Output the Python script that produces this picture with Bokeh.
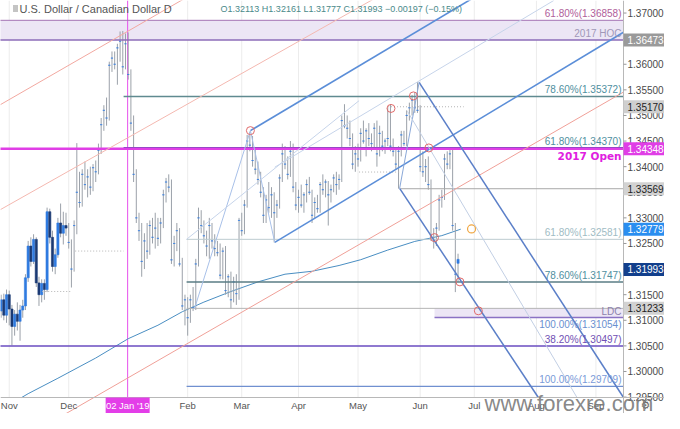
from bokeh.plotting import figure
from bokeh.models import Range1d, ColumnDataSource
from bokeh.embed import file_html
from bokeh.resources import INLINE
from bokeh.core.properties import value

# ---------------- data ----------------
# bar index: 0 = 1 Nov 2018, weekdays only (first bar = 29 Oct 2018)
start_index = -3
opens = [1.3118,1.3140,1.3110,1.3150,1.3122,1.3088,1.3112,1.3098,1.3120,1.3128,1.3183,1.3245,1.3215,1.3258,1.3173,1.3150,1.3172,1.3160,1.3312,1.3262,1.3205,1.3228,1.3290,1.3270,1.3285,1.3252,1.3200,1.3285,1.3350,1.3330,1.3385,1.3365,1.3380,1.3360,1.3398,1.3390,1.3432,1.3482,1.3510,1.3495,1.3598,1.3612,1.3600,1.3632,1.3645,1.3595,1.3640,1.3580,1.3485,1.3385,1.3300,1.3275,1.3215,1.3255,1.3235,1.3285,1.3262,1.3280,1.3260,1.3290,1.3345,1.3370,1.3360,1.3218,1.3250,1.3275,1.3210,1.3128,1.3140,1.3105,1.3140,1.3125,1.3210,1.3300,1.3285,1.3265,1.3245,1.3285,1.3255,1.3240,1.3232,1.3188,1.3235,1.3158,1.3185,1.3140,1.3175,1.3152,1.3295,1.3275,1.3325,1.3450,1.3442,1.3412,1.3395,1.3375,1.3350,1.3305,1.3335,1.3320,1.3345,1.3310,1.3325,1.3378,1.3425,1.3405,1.3385,1.3430,1.3360,1.3325,1.3340,1.3325,1.3345,1.3365,1.3350,1.3305,1.3330,1.3318,1.3365,1.3355,1.3370,1.3345,1.3355,1.3378,1.3365,1.3375,1.3490,1.3480,1.3475,1.3455,1.3405,1.3425,1.3415,1.3465,1.3450,1.3470,1.3455,1.3445,1.3475,1.3425,1.3465,1.3440,1.3450,1.3455,1.3440,1.3430,1.3405,1.3430,1.3462,1.3445,1.3500,1.3515,1.3530,1.3515,1.3510,1.3400,1.3390,1.3400,1.3365,1.3265,1.3255,1.3280,1.3335,1.3340,1.3415,1.3405,1.3425,1.3285,1.3190,1.32113]
highs = [1.3150,1.3152,1.3160,1.3158,1.3130,1.3120,1.3135,1.3130,1.3140,1.3190,1.3255,1.3262,1.3268,1.3262,1.3185,1.3180,1.3180,1.3320,1.3318,1.3275,1.3240,1.3300,1.3328,1.3312,1.3310,1.3290,1.3258,1.3295,1.3446,1.3390,1.3395,1.3410,1.3395,1.3400,1.3405,1.3412,1.3445,1.3495,1.3520,1.3535,1.3605,1.3625,1.3625,1.3640,1.3664,1.3665,1.3660,1.3662,1.3590,1.3500,1.3395,1.3310,1.3290,1.3270,1.3290,1.3295,1.3300,1.3310,1.3300,1.3300,1.3355,1.3378,1.3385,1.3375,1.3265,1.3290,1.3280,1.3222,1.3150,1.3145,1.3150,1.3165,1.3220,1.3320,1.3315,1.3295,1.3275,1.3300,1.3290,1.3268,1.3255,1.3250,1.3242,1.3245,1.3190,1.3195,1.3185,1.3190,1.3300,1.3310,1.3335,1.3462,1.3468,1.3460,1.3435,1.3410,1.3390,1.3360,1.3345,1.3370,1.3360,1.3350,1.3335,1.3385,1.3445,1.3440,1.3420,1.3450,1.3445,1.3370,1.3355,1.3365,1.3350,1.3375,1.3380,1.3355,1.3340,1.3345,1.3370,1.3385,1.3375,1.3372,1.3365,1.3385,1.3390,1.3385,1.3500,1.3522,1.3500,1.3490,1.3465,1.3440,1.3445,1.3475,1.3490,1.3475,1.3485,1.3465,1.3485,1.3490,1.3480,1.3470,1.3455,1.3515,1.3522,1.3455,1.3438,1.3440,1.3470,1.3470,1.3510,1.3525,1.3540,1.3545,1.3565,1.3520,1.3430,1.3415,1.3420,1.3375,1.3280,1.3290,1.3345,1.3355,1.3425,1.3430,1.3437,1.3435,1.3290,1.3230,1.32161]
lows = [1.3105,1.3100,1.3095,1.3090,1.3051,1.3070,1.3080,1.3060,1.3105,1.3120,1.3175,1.3205,1.3210,1.3165,1.3128,1.3135,1.3140,1.3155,1.3250,1.3195,1.3190,1.3222,1.3262,1.3248,1.3265,1.3240,1.3164,1.3195,1.3268,1.3320,1.3322,1.3355,1.3340,1.3345,1.3352,1.3370,1.3385,1.3425,1.3470,1.3480,1.3490,1.3585,1.3590,1.3560,1.3605,1.3580,1.3590,1.3570,1.3470,1.3370,1.3290,1.3255,1.3185,1.3200,1.3220,1.3228,1.3250,1.3240,1.3245,1.3250,1.3280,1.3330,1.3350,1.3210,1.3205,1.3235,1.3205,1.3120,1.3090,1.3070,1.3095,1.3118,1.3120,1.3205,1.3270,1.3250,1.3225,1.3220,1.3240,1.3225,1.3225,1.3180,1.3180,1.3150,1.3145,1.3122,1.3135,1.3130,1.3140,1.3265,1.3268,1.3320,1.3430,1.3400,1.3385,1.3365,1.3340,1.3290,1.3290,1.3310,1.3300,1.3252,1.3300,1.3318,1.3370,1.3395,1.3375,1.3380,1.3350,1.3315,1.3310,1.3320,1.3310,1.3330,1.3345,1.3290,1.3300,1.3310,1.3310,1.3345,1.3340,1.3285,1.3330,1.3350,1.3345,1.3355,1.3370,1.3475,1.3455,1.3440,1.3395,1.3390,1.3400,1.3410,1.3445,1.3420,1.3440,1.3430,1.3435,1.3400,1.3420,1.3430,1.3425,1.3440,1.3430,1.3420,1.3395,1.3357,1.3420,1.3440,1.3440,1.3490,1.3500,1.3505,1.3505,1.3390,1.3380,1.3370,1.3355,1.3255,1.3240,1.3245,1.3275,1.3320,1.3335,1.3395,1.3395,1.3275,1.3155,1.3175,1.31777]
closes = [1.3140,1.3110,1.3150,1.3122,1.3088,1.3112,1.3098,1.3120,1.3128,1.3183,1.3245,1.3215,1.3258,1.3173,1.3150,1.3172,1.3160,1.3312,1.3262,1.3205,1.3228,1.3290,1.3270,1.3285,1.3280,1.3252,1.3200,1.3285,1.3350,1.3330,1.3385,1.3365,1.3380,1.3360,1.3398,1.3390,1.3432,1.3482,1.3510,1.3495,1.3598,1.3612,1.3600,1.3632,1.3645,1.3595,1.3640,1.3580,1.3485,1.3385,1.3300,1.3275,1.3215,1.3255,1.3235,1.3285,1.3262,1.3280,1.3260,1.3290,1.3345,1.3370,1.3360,1.3218,1.3250,1.3275,1.3210,1.3128,1.3140,1.3105,1.3140,1.3125,1.3210,1.3300,1.3285,1.3265,1.3245,1.3285,1.3255,1.3240,1.3232,1.3188,1.3235,1.3158,1.3185,1.3140,1.3175,1.3152,1.3295,1.3275,1.3325,1.3450,1.3442,1.3412,1.3395,1.3375,1.3350,1.3305,1.3335,1.3320,1.3345,1.3310,1.3325,1.3378,1.3425,1.3405,1.3385,1.3430,1.3360,1.3325,1.3340,1.3325,1.3345,1.3365,1.3350,1.3305,1.3330,1.3318,1.3365,1.3355,1.3370,1.3345,1.3355,1.3378,1.3365,1.3375,1.3490,1.3480,1.3475,1.3455,1.3405,1.3425,1.3415,1.3465,1.3450,1.3470,1.3455,1.3445,1.3475,1.3425,1.3465,1.3440,1.3450,1.3455,1.3440,1.3430,1.3405,1.3430,1.3462,1.3445,1.3500,1.3515,1.3530,1.3515,1.3510,1.3400,1.3390,1.3400,1.3365,1.3265,1.3255,1.3280,1.3335,1.3340,1.3415,1.3405,1.3425,1.3285,1.3190,1.3219,1.31993]

# 200-day moving average (bar index, price)
ma_index = [4.6, 7, 18, 32, 44, 55, 64, 72, 82, 92, 102, 112, 122, 130, 140, 150, 160, 167]
ma_value = [1.29492, 1.29567, 1.29868, 1.30263, 1.30640, 1.30903, 1.31167, 1.31355, 1.31562, 1.31750, 1.31900, 1.31957, 1.32070, 1.32183, 1.32371, 1.32540, 1.32653, 1.32779]

# horizontal levels
level_price = [1.36858, 1.36473, 1.35372, 1.34370, 1.34348, 1.33569, 1.32581, 1.31747, 1.31233, 1.31054, 1.30497, 1.29709]
level_start = [-4, -4, 42.3, 42.3, -4, 144.8, 65.6, 65.6, 65.6, 157.3, -4, 65.6]
level_color = ["#a575b5", "#8c6cb8", "#5f8a90", "#5050a8", "#e03ee6", "#a8a8a8", "#bccbd0", "#5a7c84", "#b4b4b4", "#8a72c4", "#6a4cc0", "#7090d0"]
level_width = [1, 1.5, 1.5, 1.2, 2.5, 1, 1, 1.5, 1, 1.5, 1.5, 1.2]

zone_bottom = [1.36473, 1.31054]
zone_top = [1.36858, 1.31233]
zone_left = [-4, 157.3]

fib_above_text = ["61.80%(1.36858)", "2017 HOC", "78.60%(1.35372)", "61.80%(1.34370)", "61.80%(1.32581)", "78.60%(1.31747)", "LDC", "38.20%(1.30497)", "100.00%(1.29709)"]
fib_above_price = [1.36858, 1.36473, 1.35372, 1.34370, 1.32581, 1.31747, 1.31054, 1.30497, 1.29709]
fib_above_color = ["#b0609a", "#a098b8", "#4f8fa0", "#4f8fa0", "#a0bcc4", "#4f8fa0", "#8c80ac", "#7050b4", "#7a9ad8"]
fib_below_text = ["100.00%(1.31054)"]
fib_below_price = [1.31054]

# trend / channel lines (bar index, price)
line_x0 = [-3.3, -3.3, -3.3, 89.2, 98.2, 68.5, 89.2, 151.6, 144.4, 151.6, 147.3, 65.6, 98.2]
line_y0 = [1.3521, 1.3316, 1.28438, 1.34704, 1.32521, 1.31223, 1.34704, 1.35645, 1.33575, 1.35645, 1.35081, 1.32581, 1.33989]
line_x1 = [70.0, 143.4, 227.2, 176.0, 227.2, 89.2, 98.2, 227.2, 195.7, 144.4, 210.0, 129.4, 201.4]
line_y1 = [1.3744, 1.3753, 1.35457, 1.37433, 1.36624, 1.34704, 1.32521, 1.29492, 1.29492, 1.33575, 1.29492, 1.35289, 1.37245]
line_color = ["#f2a8a0", "#f4b8b0", "#f0a098", "#5b8ed8", "#5b8ed8", "#a8c0e8", "#a8c0e8", "#5b7fc8", "#5b7fc8", "#8aa8d8", "#c2cfe4", "#c6d4ea", "#c6d4ea"]
line_width = [1, 1, 1, 1.6, 1.6, 1, 1, 1.5, 1.5, 1, 1, 1, 1]

dot_x0 = [12.2, 24.4, 129.4, 140.1]
dot_x1 = [22.6, 42.3, 144.8, 168.1]
dot_y = [1.31562, 1.32352, 1.33895, 1.35170]

circle_index = [89.2, 141.2, 149.5, 155.2, 157.3, 166.7, 173.5]
circle_price = [1.34704, 1.35137, 1.35382, 1.34366, 1.32615, 1.31750, 1.31185]
orange_index = [171.0]
orange_price = [1.32785]

tag_price = [1.36473, 1.35170, 1.34348, 1.33569, 1.32779, 1.31993, 1.31233]
tag_fill = ["#9a9a9a", "#cfcfcf", "#e03ee6", "#d2d2d2", "#2a8ef0", "#123f8c", "#d2d2d2"]
tag_text_color = ["white", "#222222", "white", "#222222", "white", "white", "#222222"]

price_ticks = [1.295, 1.300, 1.305, 1.310, 1.315, 1.320, 1.325, 1.330, 1.335, 1.340, 1.345, 1.350, 1.355, 1.360, 1.365, 1.370]
month_ticks = [0, 22, 66, 86, 107, 129, 152, 172, 195, 217]
month_labels = ["Nov", "Dec", "Feb", "Mar", "Apr", "May", "Jun", "Jul", "Aug", "Sep"]
jan_marker = 43.8
jan_label = "02 Jan '19"

# ---------------- geometry ----------------
W, H = 664, 413
CW, CH = 623, 397                 # chart area in pixels (rest = price / time scales)
X0, X1 = -3.23, 227.2             # visible bars
Y0, Y1 = 1.29492, 1.37245         # visible prices
XR = X0 + (X1 - X0) * W / CW
YB = Y1 - (Y1 - Y0) * H / CH
px = (X1 - X0) / CW
py = (Y1 - Y0) / CH

p = figure(width=W, height=H, output_backend="svg", toolbar_location=None, title=None,
           x_range=Range1d(X0, XR), y_range=Range1d(YB, Y1),
           x_axis_location=None, y_axis_location=None,
           min_border_left=0, min_border_top=0, min_border_right=0, min_border_bottom=0)
p.outline_line_color = None
p.grid.visible = False
p.background_fill_color = "white"

# vertical grid
p.segment(x0=month_ticks, y0=[Y0] * len(month_ticks), x1=month_ticks, y1=[Y1] * len(month_ticks),
          line_color="#ececec", line_width=1)

# zones
p.quad(left=zone_left, right=[X1] * len(zone_left), bottom=zone_bottom, top=zone_top,
       fill_color="#ece6f5", line_color=None)

# Jan 2 marker
p.segment(x0=[jan_marker], y0=[Y0], x1=[jan_marker], y1=[Y1], line_color="#e650ec", line_width=1)

# moving average
p.line(ma_index, ma_value, line_color="#4a8ec2", line_width=1)

# candles
idx = list(range(start_index, start_index + len(opens)))
tops = [max(o, c) for o, c in zip(opens, closes)]
bots = [min(o, c) for o, c in zip(opens, closes)]
cols = ["#2f7be0" if c >= o else "#1b3a74" for o, c in zip(opens, closes)]
src = ColumnDataSource(dict(i=idx, h=highs, l=lows, top=tops, bot=bots, col=cols))
p.segment(x0="i", y0="h", x1="i", y1="l", source=src, line_color="#9ba1a9", line_width=1)
p.vbar(x="i", width=0.8, top="top", bottom="bot", source=src, fill_color="col", line_color="col", line_width=0.6)

# horizontal levels
p.segment(x0=level_start, y0=level_price, x1=[X1] * len(level_price), y1=level_price,
          line_color=level_color, line_width=level_width)

# dotted markers
p.segment(x0=dot_x0, y0=dot_y, x1=dot_x1, y1=dot_y, line_color="#b5b5b5", line_width=1, line_dash="1 2")

# trend lines
p.segment(x0=line_x0, y0=line_y0, x1=line_x1, y1=line_y1, line_color=line_color, line_width=line_width)

# circles
p.scatter(circle_index, circle_price, marker="circle", size=8, fill_color=None, line_color="#e06a6a", line_width=1)
p.scatter(orange_index, orange_price, marker="circle", size=8, fill_color=None, line_color="#f0a640", line_width=1.2)

# fib labels
xl = X1 - 2 * px
p.text(x=[xl] * len(fib_above_text), y=fib_above_price, text=fib_above_text, text_color=fib_above_color,
       text_align="right", text_baseline="bottom", text_font=value("Liberation Sans"), text_font_size="10px",
       y_offset=-1)
p.text(x=[xl] * len(fib_below_text), y=fib_below_price, text=fib_below_text, text_color="#6a8fd0",
       text_align="right", text_baseline="top", text_font=value("Liberation Sans"), text_font_size="10px",
       y_offset=1)
p.text(x=[xl], y=[1.34348], text=["2017 Open"], text_color="#e020e0", text_align="right", text_baseline="top",
       text_font=value("DejaVu Sans"), text_font_size="10.5px", text_font_style="bold", y_offset=1)

# header
p.text(x=[X0 + 19 * px], y=[Y1 - 8 * py], text=["U.S. Dollar / Canadian Dollar  D"], text_baseline="middle",
       text_font=value("Liberation Sans"), text_font_size="11px", text_color="#555555")
p.rect(x=[X0 + 15 * px], y=[Y1 - 8 * py], width=5, height=7, width_units="screen", height_units="screen",
       fill_color="#c4c4c4", line_color=None)
p.text(x=[X0 + 220 * px], y=[Y1 - 8 * py], text=["O1.32113 H1.32161 L1.31777 C1.31993 \u22120.00197 (\u22120.15%)"],
       text_baseline="middle", text_font=value("Liberation Sans"), text_font_size="9px", text_color="#4a8a8a")

# ---------------- price scale (right) ----------------
p.segment(x0=[X1], y0=[YB], x1=[X1], y1=[Y1], line_color="#b8b8b8", line_width=1)
p.segment(x0=[X1] * len(price_ticks), y0=price_ticks, x1=[X1 + 3 * px] * len(price_ticks), y1=price_ticks,
          line_color="#999999", line_width=1)
p.text(x=[X1 + 4 * px] * len(price_ticks), y=price_ticks, text=["%.5f" % t for t in price_ticks],
       text_align="left", text_baseline="middle", text_font=value("Liberation Sans"), text_font_size="10px",
       text_color="#4a4a4a")
p.rect(x=[(X1 + XR) / 2] * len(tag_price), y=tag_price, width=XR - X1, height=13, height_units="screen",
       fill_color=tag_fill, line_color=None)
p.text(x=[X1 + 4 * px] * len(tag_price), y=tag_price, text=["%.5f" % t for t in tag_price],
       text_align="left", text_baseline="middle", text_font=value("Liberation Sans"), text_font_size="10px",
       text_color=tag_text_color)

# ---------------- time scale (bottom) ----------------
p.segment(x0=[X0], y0=[Y0], x1=[XR], y1=[Y0], line_color="#b8b8b8", line_width=1)
p.text(x=month_ticks, y=[(Y0 + YB) / 2] * len(month_ticks), text=month_labels, text_align="center",
       text_baseline="middle", text_font=value("Liberation Sans"), text_font_size="9.5px", text_color="#555555")
p.rect(x=[jan_marker], y=[(Y0 + YB) / 2], width=44, width_units="screen", height=Y0 - YB,
       fill_color="#e33ee8", line_color=None)
p.text(x=[jan_marker], y=[(Y0 + YB) / 2], text=[jan_label], text_align="center", text_baseline="middle",
       text_font=value("Liberation Sans"), text_font_size="9.5px", text_color="white")

# settings gear
p.text(x=[X1 + 22 * px], y=[(Y0 + YB) / 2], text=["\u2699"], text_align="center", text_baseline="middle",
       text_font=value("DejaVu Sans"), text_font_size="11px", text_color="#666666")

# watermark
p.text(x=[X0 + 484 * px], y=[Y1 - 403 * py], text=["www.forexre.com"], text_baseline="alphabetic",
       text_font=value("Liberation Sans"), text_font_size="22px", text_color="#7a7a7a", text_alpha=0.9)

open("out.html", "w").write(file_html(p, INLINE))
